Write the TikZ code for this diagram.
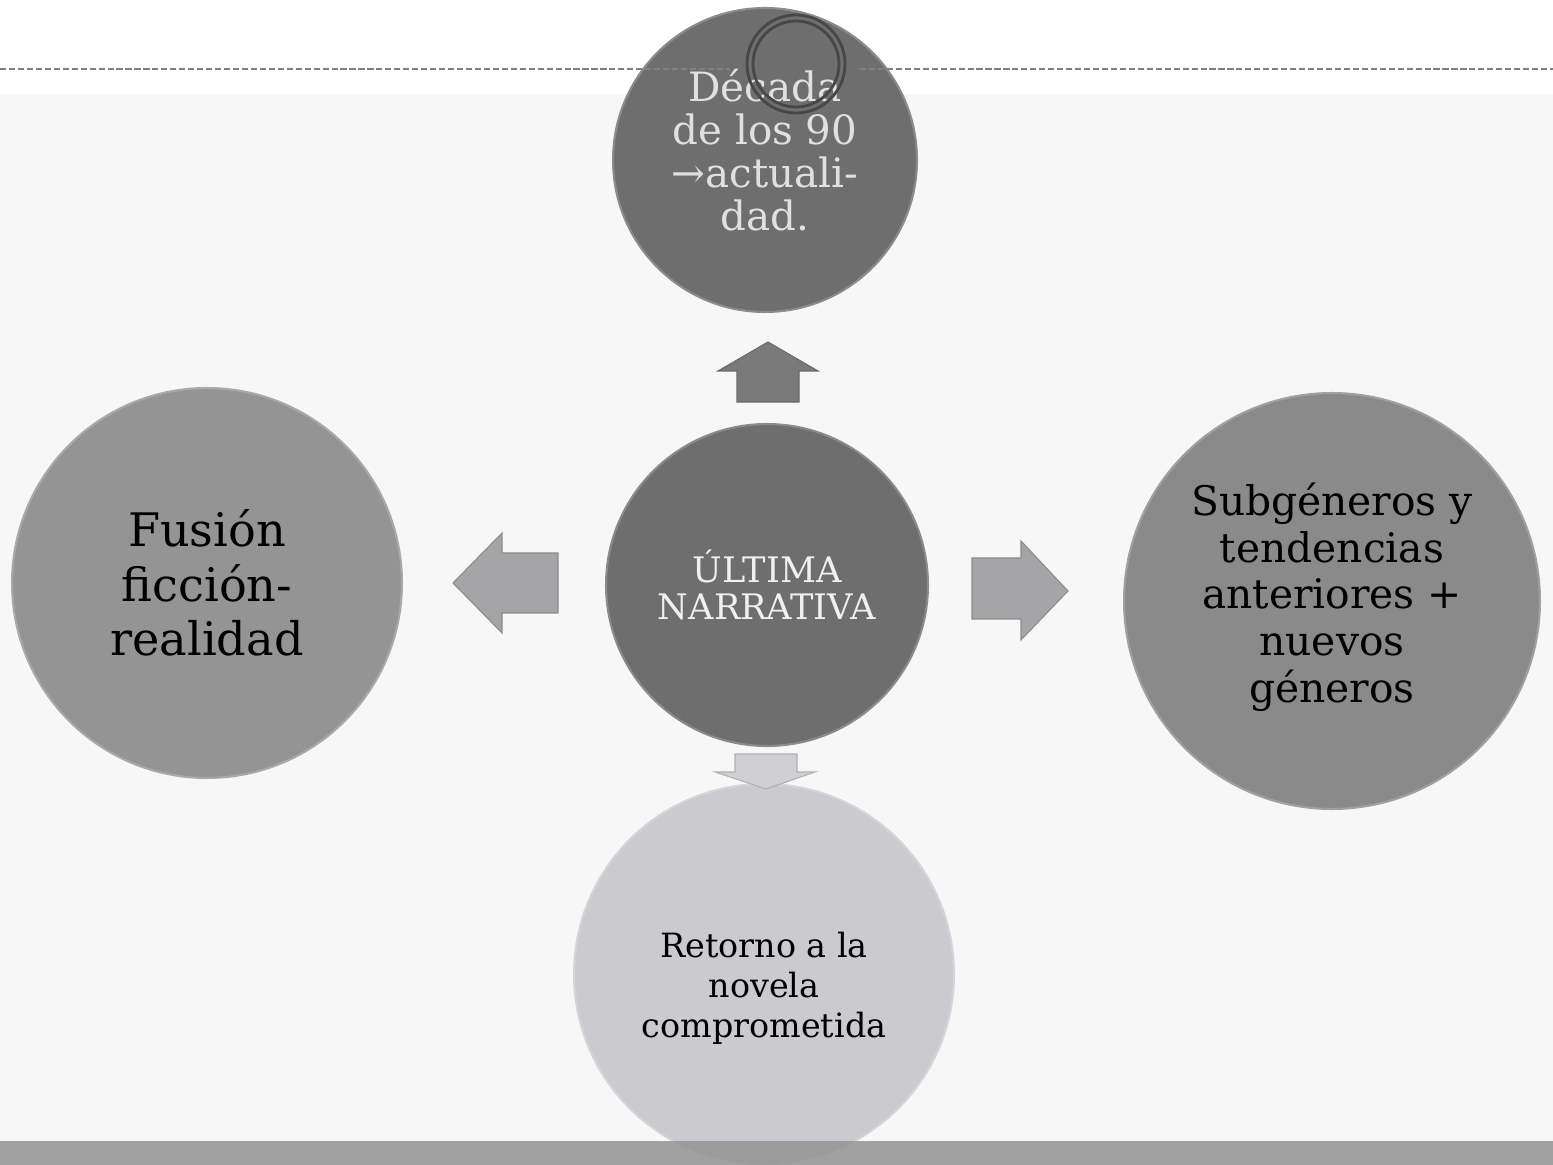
\documentclass[tikz,border=0pt]{standalone}
\usepackage{fontspec}
\setmainfont{DejaVu Serif}
\definecolor{bgpanel}{HTML}{F7F7F7}
\definecolor{barcol}{HTML}{959595}
\definecolor{darkdisc}{HTML}{6E6E6E}
\definecolor{leftdisc}{HTML}{949494}
\definecolor{rightdisc}{HTML}{8A8A8A}
\definecolor{lowdisc}{HTML}{CBCBCF}
\definecolor{uparrow}{HTML}{7A7A7A}
\definecolor{sidearrow}{HTML}{A5A5A8}
\definecolor{downarrow}{HTML}{D0D0D4}
\definecolor{paletext}{HTML}{E0E0E0}
\tikzset{
  disc/.style={circle, inner sep=0pt, draw=#1!80!white, line width=1.2pt, fill=#1},
  disctext/.style={inner sep=0pt, align=center},
  blockarrow/.style={fill=#1, draw=#1!85!black, line width=0.6pt}
}

\begin{document}
\begin{tikzpicture}[x=0.02cm,y=-0.02cm]
  \useasboundingbox (0,0) rectangle (1553,1165);
  % background
  \fill[white] (0,0) rectangle (1553,1165);
  \fill[bgpanel] (0,94) rectangle (1553,1141);

  % discs
  \node[disc=darkdisc, minimum size=6.08cm] (decada) at (765,160) {};
  \node[disc=darkdisc, minimum size=6.44cm] (ultima) at (767,585) {};
  \node[disc=leftdisc, minimum size=7.8cm] (fusion) at (207,583) {};
  \node[disc=rightdisc, minimum size=8.32cm] (subgen) at (1332,601) {};
  \node[disc=lowdisc, minimum size=7.6cm] (retorno) at (764,974) {};

  % texts
  \node[disctext, text=paletext, font=\fontsize{23}{24.4}\selectfont] (decada-text) at ([yshift=0.2cm]decada.center) {D\'ecada\\de los 90\\→actuali-\\dad.};
  \node[disctext, text=white!94!black, font=\fontsize{20}{21.5}\selectfont] (ultima-text) at (ultima.center) {\'ULTIMA\\NARRATIVA};
  \node[disctext, font=\fontsize{26.3}{31.2}\selectfont] (fusion-text) at (fusion.center) {Fusi\'on\\ficci\'on-\\realidad};
  \node[disctext, font=\fontsize{23.2}{26.6}\selectfont] (subgen-text) at ([yshift=0.08cm]subgen.center) {Subg\'eneros y\\tendencias\\anteriores +\\nuevos\\g\'eneros};
  \node[disctext, font=\fontsize{19}{22.7}\selectfont] (retorno-text) at ([yshift=-0.28cm]retorno.center) {Retorno a la\\novela\\comprometida};

  % block arrows
  \draw[blockarrow=uparrow] (768,342) -- (818,371) -- (799,371) -- (799,402) -- (737,402) -- (737,371) -- (718,371) -- cycle;
  \draw[blockarrow=sidearrow] (453,583) -- (502,533) -- (502,553) -- (558,553) -- (558,613) -- (502,613) -- (502,633) -- cycle;
  \draw[blockarrow=sidearrow] (1068,591) -- (1021,541) -- (1021,558) -- (972,558) -- (972,619) -- (1021,619) -- (1021,640) -- cycle;
  \draw[blockarrow=downarrow] (766,789) -- (815,772) -- (797,772) -- (797,754) -- (735,754) -- (735,772) -- (715,772) -- cycle;

  % title rule and ring
  \draw[black!50, line width=1.2pt, dash pattern=on 3.5pt off 1.6pt] (0,69) -- (730,69);
  \draw[black!50, line width=1.2pt, dash pattern=on 3.5pt off 1.6pt] (860,69) -- (1553,69);
  \draw[black!72, line width=1.6pt] (796,64) circle (49);
  \draw[black!72, line width=1.6pt] (796,64) circle (43);

  % footer bar
  \fill[barcol, fill opacity=0.88] (0,1141) rectangle (1553,1165);
\end{tikzpicture}
\end{document}
